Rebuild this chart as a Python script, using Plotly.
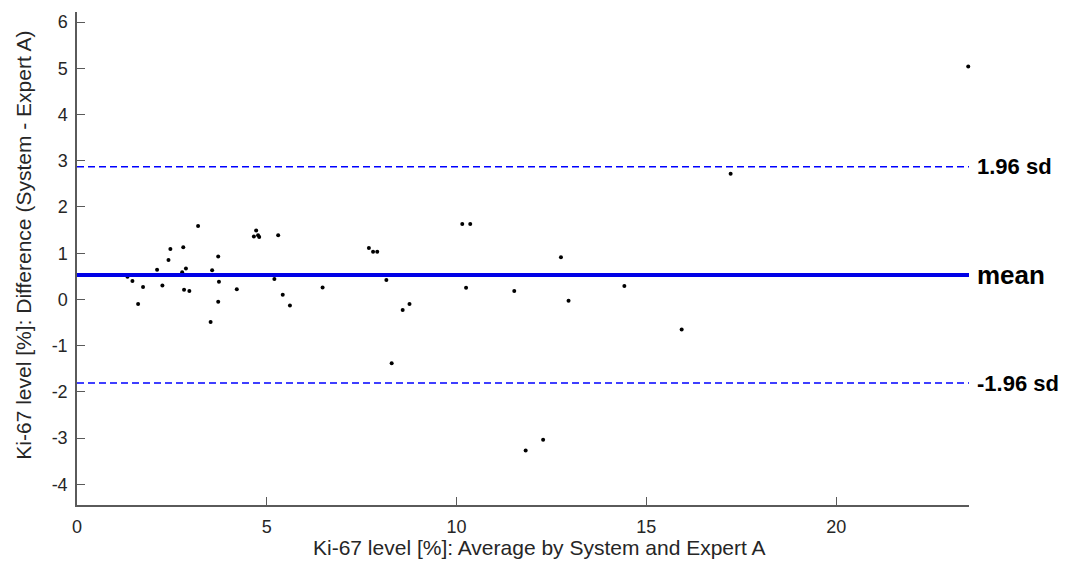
import plotly.graph_objects as go

# Bland-Altman data: average (x) and difference (y)
avg_values = [1.33, 1.46, 1.61, 1.74, 2.11, 2.25, 2.41, 2.46, 2.77, 2.80,
              2.82, 2.87, 2.96, 3.19, 3.52, 3.56, 3.72, 3.74, 3.72, 4.21,
              4.66, 4.72, 4.77, 4.80, 5.30, 5.20, 5.42, 5.61,
              6.47, 7.69, 7.80, 7.91, 8.15, 8.29, 8.58, 8.76,
              10.15, 10.36, 10.25, 11.52, 12.75, 12.95, 11.82, 12.28,
              14.42, 15.93, 17.22, 23.48]
diff_values = [0.49, 0.40, -0.10, 0.27, 0.64, 0.30, 0.85, 1.09, 0.59, 1.13,
               0.21, 0.67, 0.18, 1.59, -0.49, 0.63, 0.93, 0.38, -0.05, 0.22,
               1.36, 1.49, 1.39, 1.35, 1.39, 0.44, 0.10, -0.13,
               0.26, 1.11, 1.03, 1.03, 0.42, -1.38, -0.23, -0.10,
               1.63, 1.63, 0.25, 0.18, 0.91, -0.03, -3.27, -3.04,
               0.29, -0.65, 2.72, 5.04]

mean_diff = 0.53
upper_limit = 2.87
lower_limit = -1.81
limit_labels = ["1.96 sd", "mean", "-1.96 sd"]

x_ticks = [0, 5, 10, 15, 20]
x_tick_labels = ["0", "5", "10", "15", "20"]
y_ticks = [-4, -3, -2, -1, 0, 1, 2, 3, 4, 5, 6]
y_tick_labels = ["-4", "-3", "-2", "-1", "0", "1", "2", "3", "4", "5", "6"]

x_title = "Ki-67 level [%]: Average by System and Expert A"
y_title = "Ki-67 level [%]: Difference (System - Expert A)"

FONT = "Arial, Liberation Sans, Helvetica, sans-serif"
TEXT = "#262626"
AXIS = "#5a5a5a"

fig = go.Figure()

fig.add_hline(y=upper_limit, line=dict(color="#0000ff", width=1.5, dash="7px,4px"))
fig.add_hline(y=lower_limit, line=dict(color="#0000ff", width=1.5, dash="7px,4px"))
fig.add_hline(y=mean_diff, line=dict(color="#0000e6", width=4))

fig.add_trace(go.Scatter(
    x=avg_values, y=diff_values, mode="markers",
    marker=dict(color="black", size=4),
    cliponaxis=False, showlegend=False,
))

for val, lab, size in zip([upper_limit, mean_diff, lower_limit], limit_labels, [22, 26, 22]):
    fig.add_annotation(
        x=1.0, xref="paper", y=val, yref="y", text=lab,
        xanchor="left", yanchor="middle", xshift=6, showarrow=False,
        font=dict(family=FONT, size=size, color="black", weight="bold"),
    )

fig.add_annotation(
    x=0.5187, xref="paper", y=-0.087, yref="paper", text=x_title,
    xanchor="center", yanchor="middle", showarrow=False,
    font=dict(family=FONT, size=21, color=TEXT),
)
fig.add_annotation(
    x=-0.060, xref="paper", y=0.527, yref="paper", text=y_title,
    textangle=-90, xanchor="center", yanchor="middle", showarrow=False,
    font=dict(family=FONT, size=21, color=TEXT),
)

# page body has an 8px margin, so the figure is sized/offset to fit the window
fig.update_layout(
    width=1059, height=555,
    margin=dict(l=69, r=98, t=4, b=58),
    paper_bgcolor="white", plot_bgcolor="white",
    font=dict(family=FONT, color=TEXT),
    showlegend=False,
)
fig.update_xaxes(
    range=[0, 23.5], tickvals=x_ticks, ticktext=x_tick_labels,
    showgrid=False, zeroline=False, showline=True, linecolor=AXIS, linewidth=1.5,
    ticks="inside", ticklen=8, tickcolor=AXIS, tickwidth=1.2,
    tickfont=dict(family=FONT, size=18, color=TEXT), ticklabelstandoff=5,
)
fig.update_yaxes(
    range=[-4.45, 6.22], tickvals=y_ticks, ticktext=y_tick_labels,
    showgrid=False, zeroline=False, showline=True, linecolor=AXIS, linewidth=1.5,
    ticks="inside", ticklen=8, tickcolor=AXIS, tickwidth=1.2,
    tickfont=dict(family=FONT, size=18, color=TEXT), ticklabelstandoff=4,
)

fig.write_html("out.html")
